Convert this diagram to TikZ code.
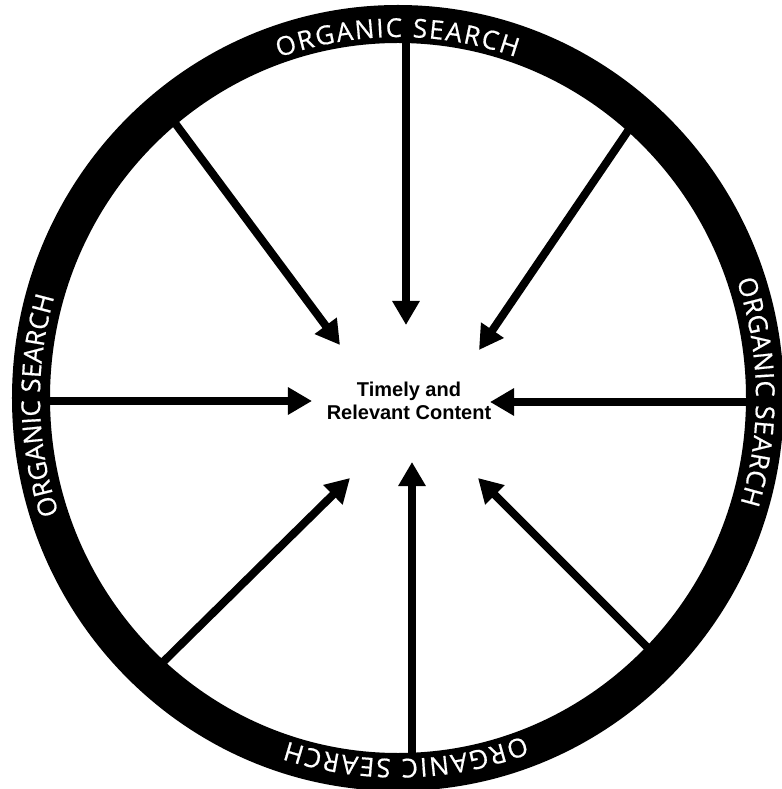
\documentclass[tikz,border=0pt]{standalone}
\usepackage{fontspec}
\setmainfont{Liberation Sans}
\newfontfamily\ringfont[FakeBold=0.6]{Open Sans}
\usetikzlibrary{arrows.meta,decorations.text}

\tikzset{
  spoke/.style={line width=8pt,-{Triangle[length=24pt,width=26pt]}},
  ringtext/.style={decorate,decoration={text along path,text align=fit to path,
    text color=white,text={|\ringfont\fontsize{26pt}{26pt}\selectfont|#1}}}
}

\begin{document}
\begin{tikzpicture}[x=1pt,y=1pt]
	\useasboundingbox (-398,-391) rectangle (383,398);
	% outer ends of the spokes
	\coordinate (sN)  at (8,362);
	\coordinate (sS)  at (14,-362);
	\coordinate (sW)  at (-356,-3);
	\coordinate (sE)  at (356,-4);
	\coordinate (sNW) at (-226,279);
	\coordinate (sNE) at (236,276);
	\coordinate (sSW) at (-240,-269);
	\coordinate (sSE) at (252,-252);
	% arrow tips round the content
	\coordinate (tN)  at (8,73);
	\coordinate (tS)  at (14,-64);
	\coordinate (tW)  at (-86,-3);
	\coordinate (tE)  at (92,-4);
	\coordinate (tNW) at (-58,53);
	\coordinate (tNE) at (81,48);
	\coordinate (tSW) at (-48,-80);
	\coordinate (tSE) at (80,-80);
	\draw[spoke] (sN)  -- (tN);
	\draw[spoke] (sS)  -- (tS);
	\draw[spoke] (sW)  -- (tW);
	\draw[spoke] (sE)  -- (tE);
	\draw[spoke] (sNW) -- (tNW);
	\draw[spoke] (sNE) -- (tNE);
	\draw[spoke] (sSW) -- (tSW);
	\draw[spoke] (sSE) -- (tSE);
	% the ring
	\fill[even odd rule] (0,0) ellipse[x radius=386pt,y radius=393pt]
	                     (0,0) ellipse[x radius=348pt,y radius=355pt];
	\path[ringtext={ORGANIC SEARCH}] (109.4:358pt and 361pt)
		arc[start angle=109.4,end angle=70.8,x radius=358pt,y radius=361pt];
	\path[ringtext={ORGANIC SEARCH}] (198.7:358pt and 361pt)
		arc[start angle=198.7,end angle=163.7,x radius=358pt,y radius=361pt];
	\path[ringtext={ORGANIC SEARCH}] (19:358pt and 361pt)
		arc[start angle=19,end angle=-17,x radius=358pt,y radius=361pt];
	\path[ringtext={ORGANIC SEARCH}] (-69.4:358pt and 361pt)
		arc[start angle=-69.4,end angle=-108,x radius=358pt,y radius=361pt];
	\node[align=center,font=\bfseries\fontsize{20}{23}\selectfont] (content) at (11,-3)
		{Timely and\\Relevant Content};
\end{tikzpicture}
\end{document}
